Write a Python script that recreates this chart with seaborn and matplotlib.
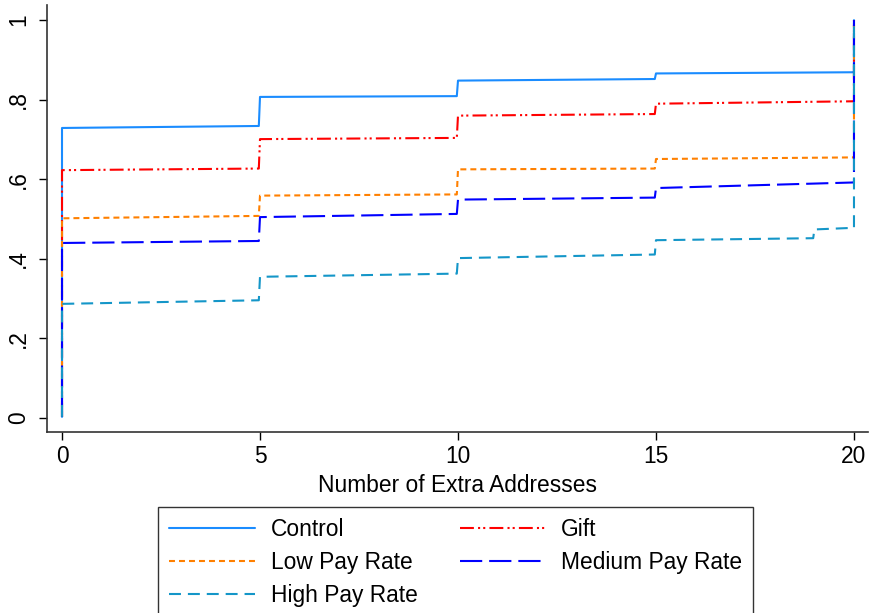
import matplotlib
matplotlib.use("Agg")
import matplotlib.pyplot as plt
import seaborn as sns
import pandas as pd

# cumulative share of respondents by number of extra addresses
x_std = [0, 0, 4.97, 5, 9.97, 10, 14.97, 15, 19.97, 20, 20]
control = [0.003, 0.729, 0.734, 0.807, 0.809, 0.848, 0.852, 0.866, 0.869, 0.869, 1.0]
gift = [0.003, 0.623, 0.627, 0.701, 0.704, 0.760, 0.764, 0.790, 0.796, 0.796, 1.0]
low_pay = [0.003, 0.502, 0.508, 0.559, 0.562, 0.625, 0.627, 0.651, 0.655, 0.655, 1.0]
medium_pay = [0.003, 0.440, 0.445, 0.505, 0.513, 0.549, 0.554, 0.578, 0.592, 0.592, 1.0]
x_high = [0, 0, 4.97, 5, 9.97, 10, 14.97, 15, 18.97, 19, 19.97, 20, 20]
high_pay = [0.003, 0.287, 0.296, 0.355, 0.363, 0.402, 0.411, 0.447, 0.452, 0.474, 0.478, 0.478, 1.0]

names = ["Control", "Gift", "Low Pay Rate", "Medium Pay Rate", "High Pay Rate"]
colors = ["#1a8cff", "#ff0000", "#ff8000", "#0000ff", "#1496c8"]
dash_styles = [None, (10, 3, 1.5, 2.2, 1.5, 3), (4.3, 2.9), (16, 5), (8.6, 5)]

sns.set_style("ticks", {"text.color": "black", "axes.labelcolor": "black",
                        "xtick.color": "black", "ytick.color": "black"})
plt.rcParams["font.family"] = ["Liberation Sans", "DejaVu Sans"]
plt.rcParams["lines.scale_dashes"] = False

fig = plt.figure(figsize=(8.73, 6.13), dpi=100)
ax = fig.add_axes([47 / 873, 181 / 613, 821 / 873, 427 / 613])

series = [(x_std, control), (x_std, gift), (x_std, low_pay), (x_std, medium_pay), (x_high, high_pay)]
handles = []
for (xs, ys), name, c, d in zip(series, names, colors, dash_styles):
    df = pd.DataFrame({"x": xs, "y": ys})
    sns.lineplot(data=df, x="x", y="y", sort=False, estimator=None, color=c, lw=1.5, ax=ax)
    line = ax.lines[-1]
    if d is not None:
        line.set_dashes(d)
    handles.append(line)

ax.set_xlim(-0.379, 20.354)
ax.set_ylim(-0.035, 1.038)
ax.set_xticks([0, 5, 10, 15, 20])
ax.set_yticks([0, 0.2, 0.4, 0.6, 0.8, 1])
ax.set_yticklabels(["0", ".2", ".4", ".6", ".8", "1"], rotation=90, va="center")
ax.tick_params(labelsize=16.4, length=6, width=1, color="black", labelcolor="black")
ax.tick_params(axis="y", pad=6)
ax.set_xlabel("Number of Extra Addresses", fontsize=16.4, labelpad=4, color="black")
ax.set_ylabel("")
for s in ["top", "right"]:
    ax.spines[s].set_visible(False)
for s in ["left", "bottom"]:
    ax.spines[s].set_color("#333333")
    ax.spines[s].set_linewidth(1.2)

order = [0, 2, 4, 1, 3]
leg = fig.legend([handles[i] for i in order], [names[i] for i in order],
                 loc="upper left", bbox_to_anchor=(158 / 873, 1 - 507 / 613),
                 ncol=2, fontsize=16.4, frameon=True, fancybox=False,
                 edgecolor="black", handlelength=3.8, handletextpad=0.66,
                 labelspacing=0.44, columnspacing=1.85, borderpad=0.48,
                 borderaxespad=0)
leg.get_frame().set_linewidth(1.0)
for t in leg.get_texts():
    t.set_color("black")

fig.savefig("out.png", dpi=100)
